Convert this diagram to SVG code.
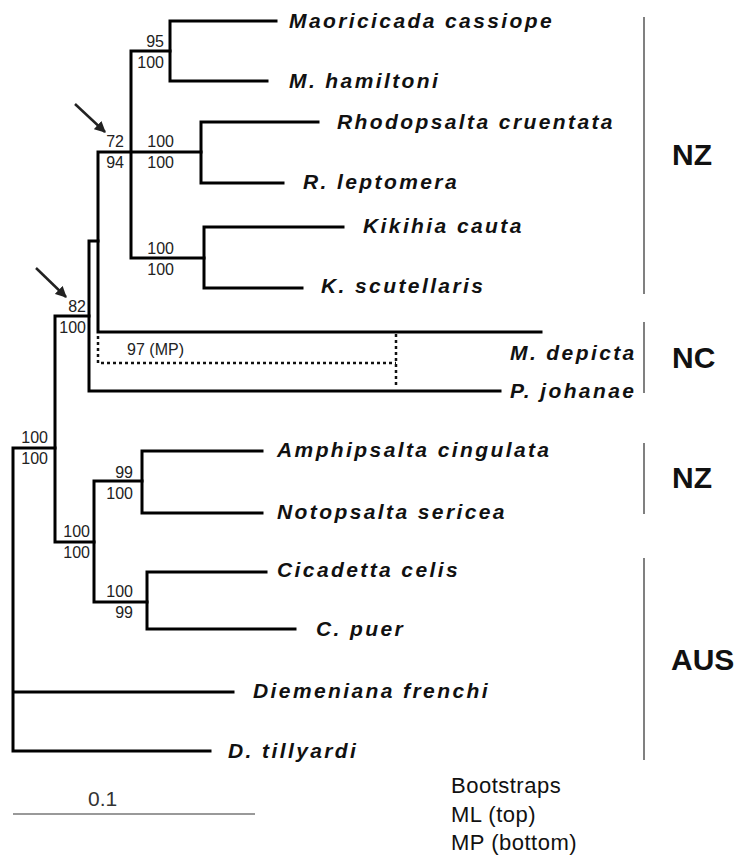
<svg xmlns="http://www.w3.org/2000/svg" width="735" height="856" viewBox="0 0 735 856">
<style>
.br{stroke:#000;stroke-width:3;fill:none;stroke-linecap:square}
.dot{stroke:#111;stroke-width:2.5;fill:none;stroke-dasharray:3 3}
.sp{font-family:"Liberation Sans",Arial,sans-serif;font-size:21px;font-weight:bold;font-style:italic;letter-spacing:2.4px;fill:#111}
.bs{font-family:"Liberation Sans",Arial,sans-serif;font-size:16px;fill:#222;text-anchor:end}
.rg{font-family:"Liberation Sans",Arial,sans-serif;font-size:30px;font-weight:bold;fill:#111}
.bar{stroke:#808080;stroke-width:2}
.lg{font-family:"Liberation Sans",Arial,sans-serif;font-size:22px;letter-spacing:0.5px;fill:#111}
</style>
<defs>
<marker id="ah" viewBox="0 0 10 10" refX="9" refY="5" markerWidth="4.5" markerHeight="4.5" orient="auto" markerUnits="strokeWidth">
<path d="M0,0 L10,5 L0,10 z" fill="#222"/>
</marker>
</defs>
<g id="connectors">
<path class="br" d="M13,448 V751 M13,448 H55 M13,692 H233 M13,751 H210"/>
<path class="br" d="M55,316 V542 M55,316 H89 M55,542 H94"/>
<path class="br" d="M89,241 V391 M89,241 H98 M89,391 H500"/>
<path class="br" d="M98,152 V332 M98,332 H541 M98,152 H201"/>
<path class="br" d="M131,51 V258 M131,51 H170 M131,258 H204"/>
<path class="br" d="M170,21 V81 M170,21 H276 M170,81 H267"/>
<path class="br" d="M201,122 V183 M201,122 H318 M201,183 H283"/>
<path class="br" d="M204,227 V288 M204,227 H343 M204,288 H302"/>
<path class="br" d="M94,481 V602 M94,481 H142 M94,602 H147"/>
<path class="br" d="M142,451 V513 M142,451 H262 M142,513 H262"/>
<path class="br" d="M147,572 V629 M147,572 H266 M147,629 H295"/>
<path class="dot" d="M98,336 V363 H396 M396,334 V388"/>
<line x1="75" y1="104" x2="105" y2="132" stroke="#222" stroke-width="2.5" marker-end="url(#ah)"/>
<line x1="36" y1="268" x2="66" y2="297" stroke="#222" stroke-width="2.5" marker-end="url(#ah)"/>
</g>
<g id="taxa">
<text class="sp" x="289" y="28">Maoricicada cassiope</text>
<text class="sp" x="289" y="88">M. hamiltoni</text>
<text class="sp" x="337" y="129">Rhodopsalta cruentata</text>
<text class="sp" x="303" y="189">R. leptomera</text>
<text class="sp" x="363" y="233">Kikihia cauta</text>
<text class="sp" x="321" y="293">K. scutellaris</text>
<text class="sp" x="510" y="360">M. depicta</text>
<text class="sp" x="510" y="398">P. johanae</text>
<text class="sp" x="277" y="457">Amphipsalta cingulata</text>
<text class="sp" x="277" y="519">Notopsalta sericea</text>
<text class="sp" x="277" y="577">Cicadetta celis</text>
<text class="sp" x="316" y="636">C. puer</text>
<text class="sp" x="253" y="698">Diemeniana frenchi</text>
<text class="sp" x="228" y="758">D. tillyardi</text>
</g>
<g id="bootstraps">
<text class="bs" x="164" y="47">95</text><text class="bs" x="164" y="68">100</text>
<text class="bs" x="124" y="147">72</text><text class="bs" x="124" y="168">94</text>
<text class="bs" x="174" y="147">100</text><text class="bs" x="174" y="168">100</text>
<text class="bs" x="174" y="254">100</text><text class="bs" x="174" y="275">100</text>
<text class="bs" x="86" y="312">82</text><text class="bs" x="86" y="333">100</text>
<text class="bs" x="48" y="443">100</text><text class="bs" x="48" y="464">100</text>
<text class="bs" x="90" y="537">100</text><text class="bs" x="90" y="558">100</text>
<text class="bs" x="133" y="478">99</text><text class="bs" x="133" y="499">100</text>
<text class="bs" x="133" y="597">100</text><text class="bs" x="133" y="618">99</text>
<text class="bs" x="184" y="355">97 (MP)</text>
</g>
<g id="regions">
<line class="bar" x1="644" y1="17" x2="644" y2="294"/>
<text class="rg" x="672" y="165">NZ</text>
<line class="bar" x1="644" y1="322" x2="644" y2="393"/>
<text class="rg" x="672" y="368">NC</text>
<line class="bar" x1="644" y1="443" x2="644" y2="514"/>
<text class="rg" x="672" y="488">NZ</text>
<line class="bar" x1="644" y1="558" x2="644" y2="760"/>
<text class="rg" x="671" y="670">AUS</text>
</g>
<g id="scale">
<line x1="13" y1="814" x2="255" y2="814" stroke="#999" stroke-width="2"/>
<text x="88" y="806" font-family="Liberation Sans, Arial, sans-serif" font-size="21" fill="#333">0.1</text>
</g>
<g id="legend">
<text class="lg" x="451" y="793">Bootstraps</text>
<text class="lg" x="451" y="822">ML (top)</text>
<text class="lg" x="451" y="850">MP (bottom)</text>
</g>
</svg>
